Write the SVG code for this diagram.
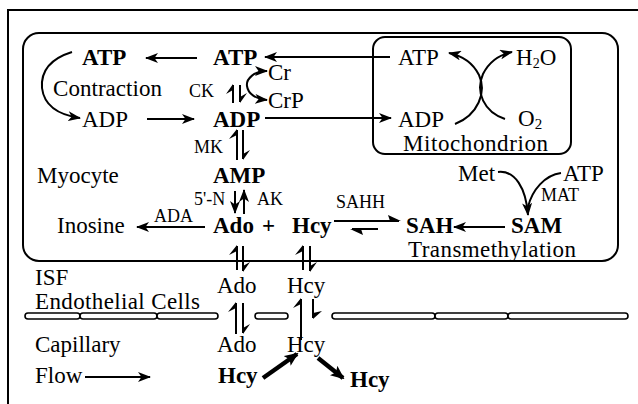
<svg xmlns="http://www.w3.org/2000/svg" width="638" height="404" viewBox="0 0 638 404">
<style>
.t{font-family:"Liberation Serif","Times New Roman",serif;font-size:23px;fill:#000}
.b{font-weight:bold}
.s{font-size:18px}
.ln{stroke:#000;stroke-width:2;fill:none}
.tk{stroke:#000;stroke-width:4.5;fill:none}
.w{fill:#000;stroke:none}
.box{fill:none;stroke:#000;stroke-width:2}
.mem{fill:#fff;stroke:#000;stroke-width:1.6}
</style>
<defs>
<marker id="ah" markerUnits="userSpaceOnUse" markerWidth="13" markerHeight="10" refX="12" refY="5" orient="auto-start-reverse">
<path d="M0,0 L13,5 L0,10 L3.5,5 z" fill="#000"/>
</marker>
<marker id="ahb" markerUnits="userSpaceOnUse" markerWidth="14" markerHeight="12" refX="12" refY="6" orient="auto">
<path d="M0,0 L14,6 L0,12 L3,6 z" fill="#000"/>
</marker>
</defs>
<rect width="638" height="404" fill="#fff"/>
<g id="frame">
<path class="box" d="M8,404 V10 H638"/>
</g>
<g id="myocyte"><rect class="box" x="23" y="33" width="595" height="228" rx="16"/>
<text class="t" x="37" y="183">Myocyte</text></g>
<g id="mitochondrion"><rect class="box" x="373" y="37" width="198" height="117" rx="12"/>
<text class="t" x="403" y="151" textLength="145">Mitochondrion</text></g>
<g id="membrane">
<rect class="mem" x="25" y="313" width="55" height="6" rx="3"/>
<rect class="mem" x="80" y="313" width="77" height="6" rx="3"/>
<rect class="mem" x="157" y="313" width="61" height="6" rx="3"/>
<rect class="mem" x="255" y="313" width="33" height="6" rx="3"/>
<rect class="mem" x="332" y="313" width="103" height="6" rx="3"/>
<rect class="mem" x="435" y="313" width="73" height="6" rx="3"/>
<rect class="mem" x="508" y="313" width="120" height="6" rx="3"/>
</g>
<g id="n-atp1"><text class="t b" x="82" y="65">ATP</text></g>
<g id="n-atp2"><text class="t b" x="213" y="65">ATP</text></g>
<g id="n-contraction"><text class="t" x="53" y="96" textLength="109">Contraction</text></g>
<g id="n-cr"><text class="t" x="268" y="80">Cr</text></g>
<g id="n-crp"><text class="t" x="268" y="108">CrP</text></g>
<g id="n-adp1"><text class="t" x="82" y="127">ADP</text></g>
<g id="n-adp2"><text class="t b" x="213" y="127">ADP</text></g>
<g id="n-atp-m"><text class="t" x="398" y="65">ATP</text></g>
<g id="n-h2o"><text class="t" x="516" y="65">H<tspan font-size="14" dy="3">2</tspan><tspan dy="-3">O</tspan></text></g>
<g id="n-adp-m"><text class="t" x="398" y="127">ADP</text></g>
<g id="n-o2"><text class="t" x="518" y="126">O<tspan font-size="15" dy="3">2</tspan></text></g>
<g id="n-amp"><text class="t b" x="213" y="183">AMP</text></g>
<g id="n-inosine"><text class="t" x="57" y="233">Inosine</text></g>
<g id="n-adohcy"><text class="t b" x="213" y="233">Ado</text><text class="t b" x="262" y="233">+</text><text class="t b" x="292" y="233">Hcy</text></g>
<g id="n-sah"><text class="t b" x="406" y="233">SAH</text></g>
<g id="n-sam"><text class="t b" x="511" y="233">SAM</text></g>
<g id="n-met"><text class="t" x="458" y="181">Met</text></g>
<g id="n-atp-r"><text class="t" x="563" y="181">ATP</text></g>
<g id="n-transmeth"><text class="t" x="408" y="257" textLength="168">Transmethylation</text></g>
<g id="n-isf"><text class="t" x="35" y="285">ISF</text></g>
<g id="n-endo"><text class="t" x="35" y="309" textLength="165">Endothelial Cells</text></g>
<g id="n-ado-isf"><text class="t" x="217" y="293">Ado</text></g>
<g id="n-hcy-isf"><text class="t" x="287" y="293">Hcy</text></g>
<g id="n-capillary"><text class="t" x="35" y="352">Capillary</text></g>
<g id="n-ado-cap"><text class="t" x="217" y="352">Ado</text></g>
<g id="n-hcy-cap"><text class="t" x="287" y="352">Hcy</text></g>
<g id="n-flow"><text class="t" x="35" y="383">Flow</text></g>
<g id="n-hcy-in"><text class="t b" x="218" y="383">Hcy</text></g>
<g id="n-hcy-out"><text class="t b" x="350" y="387">Hcy</text></g>
<g id="labels">
<text class="t s" x="189" y="97" font-size="16">CK</text>
<text class="t s" x="194" y="153">MK</text>
<text class="t s" x="194" y="205">5'-N</text>
<text class="t s" x="257" y="205">AK</text>
<text class="t s" x="154" y="222">ADA</text>
<text class="t s" x="336" y="208">SAHH</text>
<text class="t s" x="541" y="201" font-size="17">MAT</text>
</g>
<g id="connectors">
<path class="ln" d="M197,58 H146" marker-end="url(#ah)"/>
<path class="ln" d="M390,57 H265" marker-end="url(#ah)"/>
<path class="ln" d="M72,52 Q40,62 42,88 Q45,113 80,118" marker-end="url(#ah)"/>
<path class="ln" d="M147,119 H194" marker-end="url(#ah)"/>
<path class="ln" d="M265,118 H391" marker-end="url(#ah)"/>
<path class="ln" d="M267,71 C254,71 246,79 247,86 C248,94 256,99 267,100" marker-start="url(#ah)" marker-end="url(#ah)"/>
<path class="ln" d="M455,124 C478,115 487,92 479,75 C473,63 463,56 449,53" marker-end="url(#ah)"/>
<path class="ln" d="M505,119 C484,112 475,92 483,74 C489,62 498,55 512,52" marker-end="url(#ah)"/>
<path class="ln" d="M205,227 H137" marker-end="url(#ah)"/>
<path class="ln" d="M505,227 H454" marker-end="url(#ah)"/>
<path class="ln" d="M498,172 C515,170 526,188 528,215" marker-end="url(#ah)"/>
<path class="ln" d="M561,173 C545,175 532,190 528,207"/>
<path class="ln" d="M235,191 V213" marker-end="url(#ah)"/>
<path class="ln" d="M244,214 V190" marker-end="url(#ah)"/>
<path class="ln" d="M85,377 H150" marker-end="url(#ah)"/>
<path class="tk" d="M263,378 L297,354" marker-end="url(#ahb)"/>
<path class="tk" d="M318,358 L343,378" marker-end="url(#ahb)"/>
<path class="ln" d="M233,103 V85 M240,85 V102"/>
<path class="w" d="M233,84 L226,94 L233,90 z M240,103 L247,93 L240,97 z"/>
<path class="ln" d="M237,160 V130 M243,130 V159"/>
<path class="w" d="M237,129 L229,139 L237,135 z M243,160 L250,150 L243,154 z"/>
<path class="ln" d="M237,270 V246 M243,246 V271"/>
<path class="w" d="M237,245 L229,255 L237,251 z M243,272 L250,262 L243,266 z"/>
<path class="ln" d="M303,270 V246 M310,246 V271"/>
<path class="w" d="M303,245 L295,255 L303,251 z M310,272 L317,262 L310,266 z"/>
<path class="ln" d="M236,334 V303 M243,303 V333"/>
<path class="w" d="M236,302 L228,312 L236,308 z M243,334 L250,324 L243,328 z"/>
<path class="ln" d="M301,340 V299 M313,299 V318"/>
<path class="w" d="M301,298 L293,308 L301,304 z M313,319 L322,311 L313,313 z"/>
<path class="ln" d="M334,221 H399"/>
<path class="w" d="M401,221 L388,215 L390,221 z"/>
<path class="ln" d="M378,229 H352"/>
<path class="w" d="M350,229 L363,235 L361,229 z"/>
</g>
</svg>
